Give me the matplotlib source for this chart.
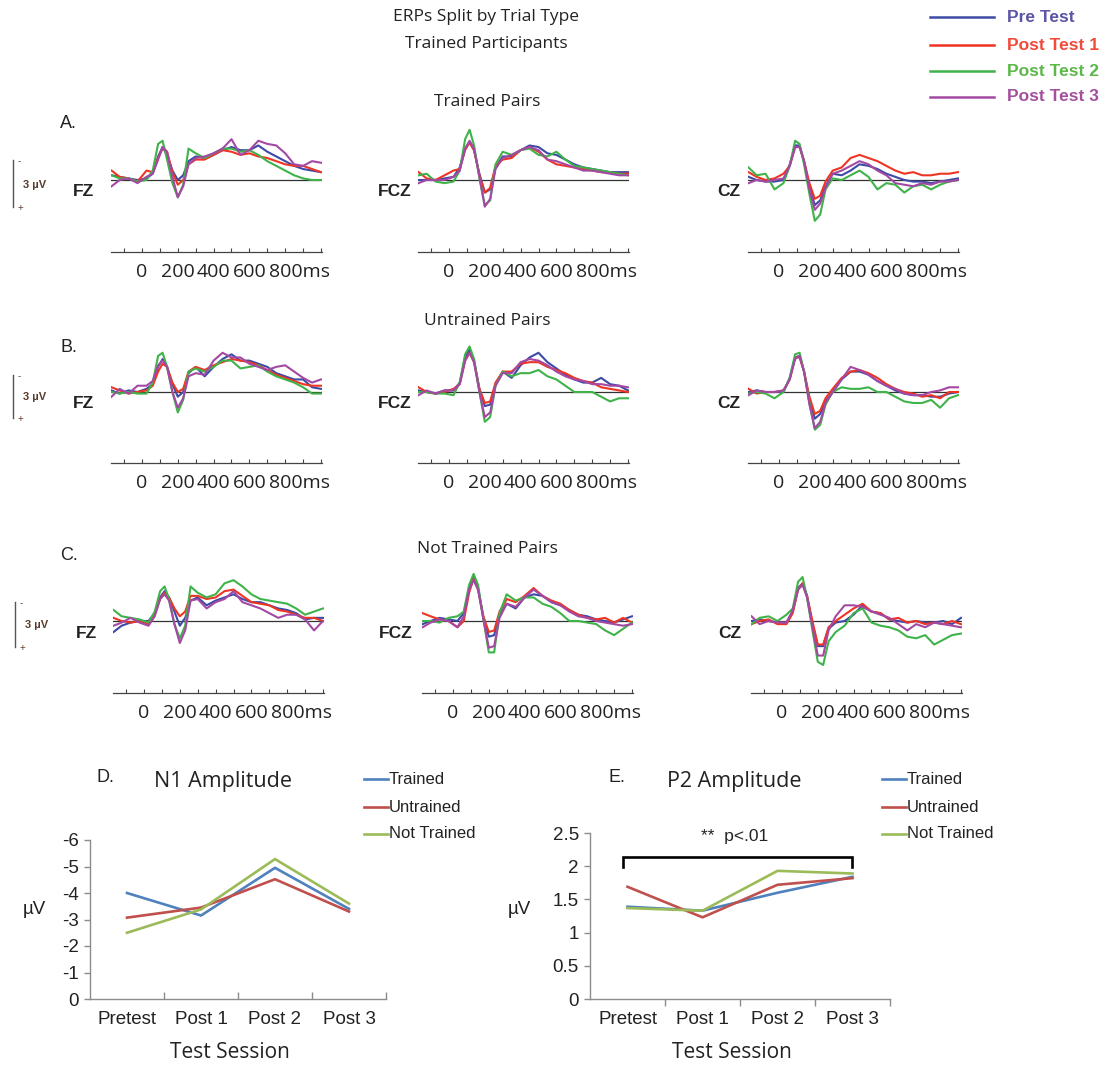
import matplotlib
matplotlib.use("Agg")
import matplotlib.pyplot as plt
from matplotlib.lines import Line2D
from matplotlib.transforms import blended_transform_factory

plt.rcParams["axes.unicode_minus"] = False

W, H = 1114, 1068
UV_PX = 15.7          # pixels per microvolt in the waveform panels
MS_PX = 0.179         # pixels per millisecond

# ---------------------------------------------------------------- data
times = [-170, -125, -75, -25, 25, 60, 90, 115, 140, 170, 200, 230, 260, 300, 350,
         400, 450, 500, 550, 600, 650, 700, 750, 800, 850, 900, 950, 1000]

sessions = ["Pre Test", "Post Test 1", "Post Test 2", "Post Test 3"]
trace_colors = ["#3d4aa6", "#ee3524", "#3fb34a", "#a349a4"]
legend_text_colors = ["#5a55a5", "#f04a3a", "#5cb848", "#a4509f"]

# trained pairs (pre, post1, post2, post3), µV
trained_fz = [
    [-0.3, -0.2, -0.1, 0.0, -0.1, -0.4, -1.5, -2.1, -1.6, -0.6, 0.0, -0.3, -1.2, -1.5, -1.4,
     -1.6, -1.9, -2.1, -1.9, -1.9, -2.2, -1.8, -1.5, -1.2, -0.9, -0.7, -0.6, -0.5],
    [-0.6, -0.2, -0.1, 0.1, -0.6, -0.5, -1.4, -2.0, -1.8, -0.5, 0.3, 0.0, -1.0, -1.3, -1.3,
     -1.6, -1.9, -1.8, -1.6, -1.7, -1.5, -1.4, -1.2, -1.0, -0.9, -0.9, -0.7, -0.5],
    [-0.3, -0.1, -0.1, 0.1, 0.0, -0.6, -2.3, -2.5, -1.3, 0.2, 1.1, 0.3, -2.0, -1.7, -1.4,
     -1.7, -2.0, -2.0, -1.8, -1.9, -1.6, -1.2, -0.9, -0.6, -0.3, -0.1, 0.0, 0.0],
    [0.4, 0.0, -0.1, 0.2, -0.2, -0.4, -1.3, -2.1, -1.8, -0.2, 1.1, 0.4, -1.0, -1.4, -1.5,
     -1.7, -2.0, -2.6, -1.6, -1.9, -2.5, -2.3, -2.2, -1.7, -1.0, -0.9, -1.2, -1.1],
]
trained_fcz = [
    [0.0, 0.0, 0.0, -0.1, -0.2, -0.8, -2.0, -2.4, -1.9, -0.4, 0.8, 0.6, -0.8, -1.5, -1.5,
     -1.9, -2.2, -2.1, -1.7, -1.6, -1.3, -1.0, -0.8, -0.7, -0.6, -0.5, -0.5, -0.5],
    [-0.5, -0.1, 0.0, -0.3, -0.6, -0.7, -1.9, -2.4, -1.9, -0.3, 0.8, 0.5, -0.9, -1.3, -1.4,
     -1.9, -2.1, -1.8, -1.3, -1.0, -0.9, -0.8, -0.7, -0.6, -0.5, -0.5, -0.4, -0.4],
    [-0.3, -0.4, 0.1, 0.2, 0.1, -0.6, -2.6, -3.2, -2.2, -0.1, 1.6, 1.3, -1.0, -1.8, -1.6,
     -1.9, -2.0, -1.6, -1.5, -1.8, -1.3, -0.9, -0.8, -0.7, -0.6, -0.5, -0.4, -0.3],
    [0.2, 0.0, 0.0, 0.0, -0.2, -0.6, -2.0, -2.5, -2.0, -0.2, 1.7, 1.2, -0.7, -1.4, -1.6,
     -1.9, -2.1, -1.9, -1.3, -1.2, -1.0, -0.8, -0.6, -0.6, -0.5, -0.4, -0.3, -0.3],
]
trained_cz = [
    [-0.2, 0.0, 0.1, 0.1, 0.0, -1.0, -2.2, -2.2, -1.2, 0.4, 1.6, 1.3, 0.4, -0.4, -0.3,
     -0.6, -1.0, -0.9, -0.7, -0.4, -0.2, 0.0, 0.1, 0.1, 0.2, 0.1, 0.0, -0.1],
    [-0.5, -0.2, 0.0, -0.1, -0.4, -0.9, -2.1, -2.1, -1.2, 0.2, 1.2, 1.0, 0.1, -0.6, -0.8,
     -1.4, -1.6, -1.4, -1.2, -0.9, -0.6, -0.4, -0.5, -0.3, -0.3, -0.4, -0.4, -0.5],
    [-0.8, -0.3, -0.4, 0.6, 0.2, -0.9, -2.5, -2.3, -1.0, 0.9, 2.6, 2.2, 0.6, -0.1, 0.0,
     -0.3, -0.6, -0.2, 0.6, 0.2, 0.3, 0.8, 0.4, 0.3, 0.6, 0.3, 0.1, 0.0],
    [0.2, 0.0, 0.1, 0.0, -0.1, -0.9, -2.1, -2.1, -1.2, 0.6, 1.9, 1.5, 0.5, -0.4, -0.6,
     -0.9, -1.2, -1.0, -0.6, -0.3, 0.2, 0.3, 0.4, 0.2, 0.3, 0.1, 0.1, 0.0],
]

# untrained pairs
untrained_fz = [
    [-0.1, 0.1, -0.1, 0.0, -0.2, -0.5, -1.6, -2.1, -1.6, -0.5, 0.3, 0.0, -1.2, -1.6, -1.0,
     -1.6, -2.1, -2.4, -2.0, -2.0, -1.8, -1.6, -1.2, -1.0, -0.8, -0.8, -0.3, -0.2],
    [-0.3, -0.1, 0.1, 0.0, -0.1, -0.4, -1.3, -1.8, -1.6, -0.6, 0.0, -0.2, -1.3, -1.6, -1.4,
     -1.7, -1.9, -2.1, -2.0, -1.9, -1.7, -1.4, -1.1, -0.9, -0.7, -0.5, -0.4, -0.4],
    [0.0, 0.1, 0.0, 0.1, 0.1, -0.6, -2.3, -2.5, -1.6, 0.0, 1.3, 0.5, -1.3, -1.5, -1.3,
     -1.6, -2.0, -2.0, -1.5, -1.6, -1.7, -1.3, -1.0, -0.8, -0.6, -0.3, 0.1, 0.1],
    [0.3, -0.2, 0.1, -0.4, -0.4, -0.7, -1.7, -2.0, -1.6, 0.0, 1.0, 0.4, -1.0, -1.2, -1.1,
     -2.0, -2.5, -2.2, -2.2, -1.8, -1.6, -1.4, -1.6, -1.7, -1.3, -0.9, -0.6, -0.8],
]
untrained_fcz = [
    [-0.1, 0.0, 0.1, -0.1, -0.1, -0.6, -2.2, -2.7, -2.0, -0.2, 0.9, 0.8, -0.5, -1.3, -0.9,
     -1.7, -2.2, -2.5, -1.9, -1.5, -1.1, -0.8, -0.6, -0.6, -0.9, -0.5, -0.4, -0.1],
    [-0.3, 0.0, 0.1, 0.0, -0.2, -0.5, -2.0, -2.5, -1.9, -0.2, 0.7, 0.6, -0.6, -1.3, -1.3,
     -1.8, -1.9, -1.9, -1.6, -1.4, -1.2, -0.9, -0.7, -0.6, -0.3, -0.2, -0.1, 0.0],
    [0.0, 0.0, 0.1, 0.1, 0.2, -0.6, -2.4, -2.9, -2.1, 0.0, 1.9, 1.6, -0.4, -1.3, -1.0,
     -1.2, -1.2, -1.4, -1.0, -0.8, -0.4, 0.0, 0.0, 0.0, 0.3, 0.6, 0.4, 0.4],
    [0.2, -0.1, 0.1, -0.1, -0.1, -0.5, -2.0, -2.5, -1.9, 0.0, 1.6, 1.3, -0.4, -1.2, -1.2,
     -1.9, -2.1, -2.0, -1.7, -1.3, -1.0, -0.8, -0.7, -0.5, -0.5, -0.4, -0.4, -0.3],
]
untrained_cz = [
    [0.0, -0.1, 0.0, 0.0, 0.0, -0.9, -2.2, -2.3, -1.3, 0.5, 1.7, 1.4, 0.6, 0.0, -0.8,
     -1.3, -1.3, -1.1, -0.7, -0.4, -0.1, 0.1, 0.2, 0.2, 0.3, 0.3, 0.1, 0.0],
    [-0.2, 0.1, 0.0, 0.0, -0.1, -0.8, -2.2, -2.2, -1.3, 0.3, 1.4, 1.2, 0.4, -0.2, -0.9,
     -1.3, -1.4, -1.2, -0.9, -0.5, -0.2, 0.0, 0.1, 0.3, 0.2, 0.4, 0.0, 0.0],
    [0.1, 0.0, 0.1, 0.4, 0.0, -0.9, -2.4, -2.5, -1.3, 0.7, 2.4, 2.1, 0.8, 0.0, -0.3,
     -0.2, -0.2, -0.3, 0.0, 0.0, 0.3, 0.6, 0.7, 0.7, 0.5, 1.0, 0.4, 0.2],
    [0.2, -0.1, 0.0, 0.0, -0.1, -0.8, -2.1, -2.3, -1.3, 0.8, 2.3, 1.9, 0.7, 0.0, -0.8,
     -1.6, -1.4, -1.1, -0.7, -0.4, -0.2, 0.1, 0.2, 0.2, 0.0, -0.1, -0.3, -0.3],
]

# not trained pairs
not_trained_fz = [
    [0.7, 0.3, 0.1, 0.0, 0.0, -0.5, -1.5, -1.9, -1.5, -0.6, 0.3, -0.2, -1.3, -1.5, -1.0,
     -1.3, -1.5, -1.7, -1.4, -1.2, -1.2, -1.0, -0.8, -0.7, -0.5, -0.1, -0.2, -0.2],
    [-0.2, 0.0, 0.1, 0.0, 0.2, -0.4, -1.4, -1.8, -1.5, -0.8, -0.3, -0.6, -1.6, -1.6, -1.4,
     -1.5, -1.9, -2.0, -1.6, -1.2, -1.1, -1.0, -0.7, -0.6, -0.4, -0.2, -0.2, 0.0],
    [-0.7, -0.3, -0.2, -0.1, 0.1, -0.6, -1.9, -2.2, -1.4, 0.2, 1.1, 0.3, -2.2, -1.8, -1.5,
     -1.7, -2.4, -2.6, -2.2, -1.7, -1.4, -1.3, -1.2, -1.1, -0.8, -0.4, -0.6, -0.8],
    [0.3, 0.1, -0.2, 0.1, 0.3, -0.3, -1.4, -1.7, -1.3, 0.2, 1.4, 0.6, -1.3, -1.4, -0.8,
     -1.2, -1.4, -1.9, -1.2, -1.0, -0.8, -0.5, -0.2, -0.4, -0.4, -0.1, 0.6, 0.0],
]
not_trained_fcz = [
    [0.2, 0.0, -0.2, -0.1, 0.0, -0.5, -2.1, -2.8, -2.1, -0.2, 1.0, 0.9, -0.4, -1.1, -0.8,
     -1.5, -1.7, -1.6, -1.2, -1.0, -0.7, -0.4, -0.3, -0.1, 0.0, 0.1, -0.1, -0.3],
    [-0.5, -0.3, -0.1, 0.0, 0.4, 0.0, -1.8, -2.7, -2.0, -0.3, 0.7, 0.6, -0.6, -1.4, -1.2,
     -1.6, -2.1, -1.6, -1.3, -1.1, -0.7, -0.4, -0.2, -0.1, -0.2, 0.1, -0.2, 0.1],
    [0.0, 0.0, 0.1, -0.2, -0.3, -0.6, -2.3, -3.0, -2.3, -0.1, 2.0, 2.0, -0.5, -1.7, -1.3,
     -1.5, -1.5, -1.1, -0.9, -0.5, 0.0, 0.0, 0.1, 0.2, 0.6, 0.9, 0.5, 0.1],
    [0.4, 0.1, -0.1, 0.0, 0.4, -0.3, -2.0, -2.6, -2.0, -0.1, 1.7, 1.6, -0.2, -1.1, -0.9,
     -1.5, -2.0, -1.6, -1.2, -1.0, -0.6, -0.3, -0.2, 0.0, 0.1, 0.2, 0.3, 0.2],
]
not_trained_cz = [
    [0.0, -0.1, 0.0, 0.1, 0.1, -0.6, -2.1, -2.4, -1.6, 0.2, 1.6, 1.6, 0.5, 0.1, 0.0,
     -0.4, -1.0, -0.6, -0.5, -0.1, 0.0, 0.1, 0.0, 0.1, 0.1, 0.0, 0.2, -0.2],
    [0.2, 0.0, -0.1, 0.2, 0.2, -0.5, -2.0, -2.4, -1.6, 0.0, 1.5, 1.5, 0.4, 0.0, -0.4,
     -0.8, -1.1, -0.6, -0.5, -0.1, -0.2, 0.1, 0.0, 0.2, 0.1, 0.2, 0.0, 0.2],
    [0.2, -0.2, -0.3, 0.0, -0.4, -0.8, -2.5, -2.8, -1.5, 0.6, 2.6, 2.8, 1.3, 0.7, 0.3,
     -0.5, -0.8, 0.1, 0.3, 0.4, 0.6, 1.0, 1.1, 0.9, 1.5, 1.2, 0.9, 0.8],
    [-0.3, 0.2, 0.0, 0.1, 0.1, -0.7, -2.0, -2.3, -1.5, 0.4, 2.2, 2.2, 0.6, -0.3, -1.0,
     -1.0, -0.9, -0.6, -0.4, -0.2, 0.2, 0.6, 0.2, 0.4, 0.1, 0.2, 0.3, 0.4],
]

electrodes = ["FZ", "FCZ", "CZ"]
pair_titles = ["Trained Pairs", "Untrained Pairs", "Not Trained Pairs"]
panel_letters = ["A.", "B.", "C."]
erp_data = [
    [trained_fz, trained_fcz, trained_cz],
    [untrained_fz, untrained_fcz, untrained_cz],
    [not_trained_fz, not_trained_fcz, not_trained_cz],
]
time_labels = [0, 200, 400, 600]
last_time_label = 800

# peak amplitudes per test session
session_names = ["Pretest", "Post 1", "Post 2", "Post 3"]
groups = ["Trained", "Untrained", "Not Trained"]
group_colors = ["#4f81bd", "#c0504d", "#9bbb59"]
n1_trained = [-4.0, -3.15, -4.95, -3.4]
n1_untrained = [-3.07, -3.45, -4.52, -3.3]
n1_not_trained = [-2.5, -3.38, -5.28, -3.6]
p2_trained = [1.39, 1.33, 1.6, 1.84]
p2_untrained = [1.69, 1.23, 1.72, 1.82]
p2_not_trained = [1.37, 1.33, 1.93, 1.89]

# ---------------------------------------------------------------- layout
fig = plt.figure(figsize=(W / 100, H / 100), dpi=100)
fig.patch.set_facecolor("white")

TITLE_FONT = "Open Sans"
ARIAL = "Liberation Sans"


def add_px_axes(left, top, right, bottom):
    return fig.add_axes([left / W, 1 - bottom / H, (right - left) / W, (bottom - top) / H])


def fig_text(x, y, s, **kw):
    return fig.text(x / W, 1 - y / H, s, **kw)


def fig_line(xs, ys, **kw):
    fig.add_artist(Line2D([x / W for x in xs], [1 - y / H for y in ys],
                          transform=fig.transFigure, **kw))


fig_text(486, 17, "ERPs Split by Trial Type", family=TITLE_FONT, fontsize=12.5,
         ha="center", va="center", color="#222222")
fig_text(486, 44, "Trained Participants", family=TITLE_FONT, fontsize=12.5,
         ha="center", va="center", color="#222222")

# legend for sessions
for i, name in enumerate(sessions):
    y = [17, 45, 71, 97][i]
    fig_line([930, 994], [y, y], color=trace_colors[i], lw=1.8)
    fig_text(1007, y, name, family=ARIAL, fontweight="bold", fontsize=12.5,
             color=legend_text_colors[i], ha="left", va="center")

row_title_y = [102, 321, 549]
row_letter_y = [123, 348, 555]
row_baseline = [180, 392, 621]
row_axis_y = [252, 463, 693]
row_zero_x = [[142, 449, 779], [142, 449, 779], [144, 453, 782]]
label_right = [[94, 412, 740], [94, 412, 740], [97, 413, 741]]
scale_x = [13, 13, 15]
scale_top = [160, 375, 602]
scale_bot = [207, 418, 647]
T_MIN, T_MAX = -175, 1005

for r in range(3):
    fig_text(487, row_title_y[r], pair_titles[r], family=TITLE_FONT, fontsize=12.5,
             ha="center", va="center", color="#222222")
    fig_text(60, row_letter_y[r], panel_letters[r], family=ARIAL, fontsize=13,
             ha="left", va="center", color="#222222")

    # 3 µV calibration bar (negative up)
    sx = scale_x[r]
    fig_line([sx, sx], [scale_top[r], scale_bot[r]], color="#555555", lw=1.0)
    fig_text(sx + 5, scale_top[r] + 1, "-", family=ARIAL, fontsize=7, color="#6b3e2e",
             ha="left", va="center")
    fig_text(sx + 5, scale_bot[r] + 1, "+", family=ARIAL, fontsize=7, color="#6b3e2e",
             ha="left", va="center")
    fig_text(sx + 10, (scale_top[r] + scale_bot[r]) / 2 + 1, "3 µV", family=ARIAL,
             fontweight="bold", fontsize=8, color="#5a3a2e", ha="left", va="center")

    base = row_baseline[r]
    axis_y = row_axis_y[r]
    for c in range(3):
        x0 = row_zero_x[r][c]
        left = x0 + T_MIN * MS_PX
        right = x0 + T_MAX * MS_PX
        top = base - 65
        ax = add_px_axes(left, top, right, axis_y)
        ax.set_xlim(T_MIN, T_MAX)
        ax.set_ylim((axis_y - base) / UV_PX, -65 / UV_PX)
        ax.set_facecolor("none")
        for side in ("left", "right", "top"):
            ax.spines[side].set_visible(False)
        ax.spines["bottom"].set_color("#444444")
        ax.spines["bottom"].set_linewidth(0.9)
        ax.set_yticks([])
        ax.set_xticks(range(-100, 1001, 100))
        ax.set_xticks([0, 1000], minor=True)
        ax.tick_params(axis="x", which="major", direction="in", length=3, width=0.8,
                       colors="#444444", labelbottom=False)
        ax.tick_params(axis="x", which="minor", direction="in", length=7, width=0.8,
                       colors="#444444", labelbottom=False)
        ax.axhline(0, color="#333333", lw=0.9, zorder=1)

        for k in range(4):
            ax.plot(times, erp_data[r][c][k], color=trace_colors[k], lw=1.5, zorder=2 + k)

        trans = blended_transform_factory(ax.transData, ax.transAxes)
        label_y = -20 / (axis_y - top)
        for t in time_labels:
            ax.text(t, label_y, str(t), transform=trans, family=TITLE_FONT, fontsize=14,
                    ha="center", va="center", color="#222222")
        # last label carries the unit, with its digits centred on the tick
        ax.text(last_time_label - 16.5 / MS_PX, label_y, f"{last_time_label}ms",
                transform=trans, family=TITLE_FONT, fontsize=14, ha="left",
                va="center", color="#222222")

        fig_text(label_right[r][c], base + 12, electrodes[c], family=ARIAL,
                 fontweight="bold", fontsize=12.5, ha="right", va="center",
                 color="#222222")


def amplitude_panel(left, right, series, ylim, yticks, ylabels, letter, letter_x,
                    title, title_x, ylabel_x, tick_dir):
    ax = add_px_axes(left, 840 if ylim[1] == -6 else 833, right, 999)
    for vals, color in zip(series, group_colors):
        ax.plot(range(4), vals, color=color, lw=1.9)
    ax.set_xlim(-0.5, 3.5)
    ax.set_ylim(*ylim)
    for side in ("right", "top"):
        ax.spines[side].set_visible(False)
    for side in ("left", "bottom"):
        ax.spines[side].set_color("#8c8c8c")
        ax.spines[side].set_linewidth(1.0)
    ax.set_yticks(yticks)
    ax.set_yticklabels(ylabels, family=ARIAL, fontsize=13.5, color="#222222")
    ax.tick_params(axis="y", direction="out", length=4, width=1.0, color="#8c8c8c", pad=4)
    ax.set_xticks(range(4))
    ax.set_xticklabels(session_names, family=ARIAL, fontsize=13.5, color="#222222")
    ax.tick_params(axis="x", which="major", length=0, pad=9)
    ax.set_xticks([0.5, 1.5, 2.5, 3.5], minor=True)
    ax.tick_params(axis="x", which="minor", direction=tick_dir, length=5, width=1.0,
                   color="#8c8c8c")
    ax.set_facecolor("none")

    fig_text(letter_x, 778, letter, family=ARIAL, fontsize=13, ha="left", va="center",
             color="#222222")
    fig_text(title_x, 782, title, family=TITLE_FONT, fontsize=15.5, ha="center",
             va="center", color="#222222")
    fig_text((left + right) / 2 - 8, 1053, "Test Session", family=TITLE_FONT,
             fontsize=15, ha="center", va="center", color="#222222")
    fig_text(ylabel_x, 910, "µV", family=ARIAL, fontsize=13.5, ha="center", va="center",
             color="#222222")

    legend_left = right - 22 if ylim[1] == -6 else right - 8
    for i, name in enumerate(groups):
        y = [779, 807, 834][i]
        fig_line([legend_left, legend_left + 24], [y, y], color=group_colors[i], lw=1.9)
        fig_text(legend_left + 25, y, name, family=ARIAL, fontsize=12, ha="left",
                 va="center", color="#222222")
    return ax


amplitude_panel(90, 386, [n1_trained, n1_untrained, n1_not_trained], (0, -6),
                [0, -1, -2, -3, -4, -5, -6], ["0", "-1", "-2", "-3", "-4", "-5", "-6"],
                "D.", 97, "N1 Amplitude", 223, 34, "in")

ax_e = amplitude_panel(590, 890, [p2_trained, p2_untrained, p2_not_trained], (0, 2.5),
                       [0, 0.5, 1, 1.5, 2, 2.5], ["0", "0.5", "1", "1.5", "2", "2.5"],
                       "E.", 608, "P2 Amplitude", 734, 519, "out")

# significance bracket over all sessions
ax_e.plot([-0.06, -0.06, 2.99, 2.99], [1.99, 2.14, 2.14, 1.99], color="black", lw=1.9,
          solid_joinstyle="miter", clip_on=False)
ax_e.text(1.43, 2.45, "**  p<.01", family=ARIAL, fontsize=12.5, ha="center", va="center",
          color="#222222")

fig.savefig("out.png", dpi=100, facecolor="white")
